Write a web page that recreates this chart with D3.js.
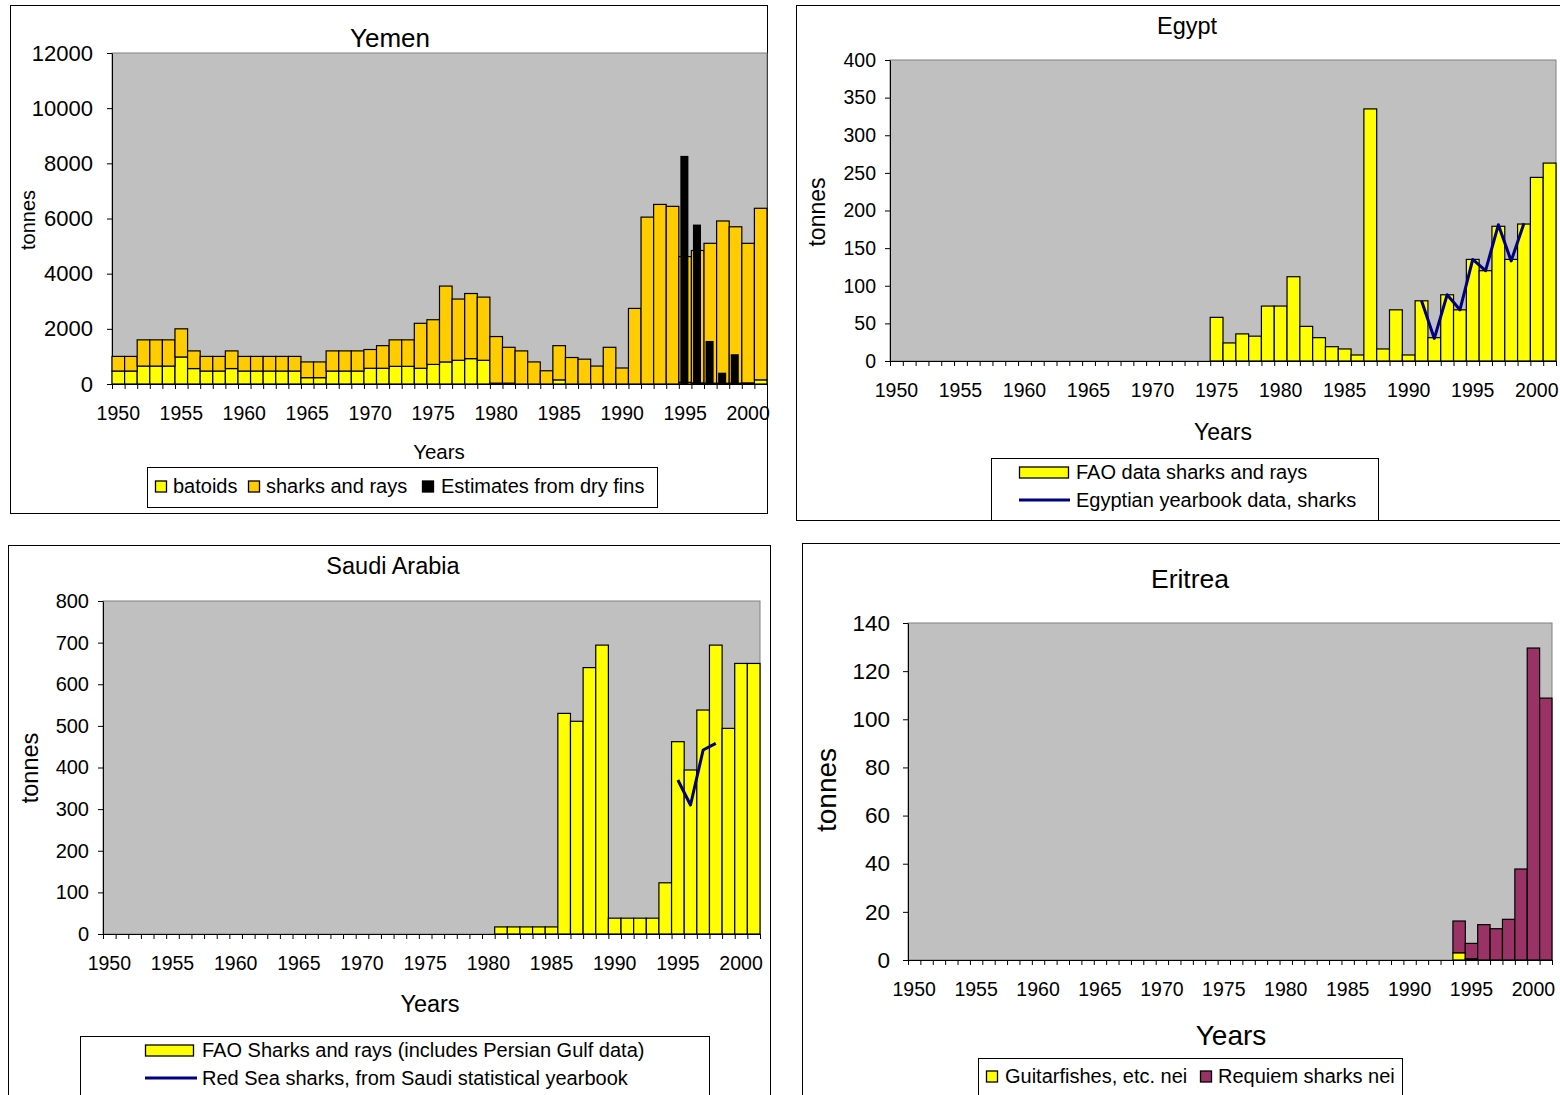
<!DOCTYPE html>
<html lang="en">
<head>
<meta charset="utf-8">
<title>Red Sea shark catches</title>
<script src="https://cdn.jsdelivr.net/npm/d3@7"></script>
<style>
  body { margin: 0; background: #fff; }
  svg { display: block; font-family: "Liberation Sans", Arial, sans-serif; }
</style>
</head>
<body>
<script>
// categories
var years = d3.range(1950, 2002);
var labelYears = [1950, 1955, 1960, 1965, 1970, 1975, 1980, 1985, 1990, 1995, 2000];

// Yemen (tonnes, 1950-2001)
var yemenBatoids = [470, 470, 650, 650, 650, 980, 560, 470, 470, 560,
                    470, 470, 470, 470, 470, 230, 230, 470, 470, 470,
                    570, 570, 640, 640, 570, 710, 800, 860, 920, 860,
                    30, 30, 0, 0, 0, 150, 0, 0, 0, 0,
                    0, 0, 0, 0, 0, 60, 40, 30, 30, 30,
                    40, 150];
var yemenSharks = [530, 530, 950, 950, 950, 1020, 640, 530, 530, 640,
                   530, 530, 530, 530, 530, 570, 570, 730, 730, 730,
                   680, 820, 960, 960, 1630, 1620, 2750, 2220, 2360, 2290,
                   1690, 1300, 1200, 800, 480, 1240, 960, 900, 650, 1330,
                   580, 2740, 6050, 6510, 6440, 4560, 4800, 5070, 5880, 5670,
                   5060, 6220];
var finYears = [1995, 1996, 1997, 1998, 1999];
var yemenDryFins = [8270, 5780, 1560, 410, 1080];

// Egypt
var egyptFaoYears = d3.range(1975, 2002);
var egyptFao = [58, 24, 36, 33, 73, 73, 112, 46, 31, 19, 16, 8, 335, 16, 68, 8,
                80, 31, 88, 68, 135, 120, 179, 135, 182, 244, 263];
var egyptBookYears = d3.range(1991, 2000);
var egyptYearbook = [80, 30, 88, 68, 135, 120, 181, 133, 183];

// Saudi Arabia
var saudiFaoYears = d3.range(1981, 2002);
var saudiFao = [17, 17, 17, 17, 17, 530, 511, 640, 694, 38, 38, 38, 38, 123,
                462, 394, 538, 694, 494, 650, 650];
var saudiBookYears = [1995, 1996, 1997, 1998];
var saudiRedSea = [370, 310, 442, 458];

// Eritrea
var eritreaYears = d3.range(1994, 2002);
var eritreaGuitar = [3, 0.5, 0, 0, 0, 0, 0, 0];
var eritreaRequiem = [13.2, 6.4, 14.7, 13, 16.9, 37.8, 129.6, 108.8];

var YELLOW = "#ffff00", ORANGE = "#ffcc00", NAVY = "#000080", PURPLE = "#993366";

var svg = d3.select("body").append("svg")
  .attr("width", 1560).attr("height", 1095);

function panel(p) {
  var g = svg.append("g");
  g.append("rect")
    .attr("x", p.frame[0] + 0.5).attr("y", p.frame[1] + 0.5)
    .attr("width", p.frame[2]).attr("height", p.frame[3])
    .attr("fill", "#fff").attr("stroke", "#000");
  g.append("rect")
    .attr("x", p.left).attr("y", p.top)
    .attr("width", p.right - p.left).attr("height", p.bottom - p.top)
    .attr("fill", "#c0c0c0").attr("stroke", "#808080");

  var x = d3.scaleBand().domain(years).range([p.left, p.right]).padding(0);
  var y = d3.scaleLinear().domain([0, p.yMax]).range([p.bottom, p.top]);

  // y axis
  var ya = g.append("g").attr("transform", "translate(" + p.left + ",0)")
    .call(d3.axisLeft(y).tickValues(d3.range(0, p.yMax + 1, p.yStep))
      .tickFormat(d3.format("d"))
      .tickSize(5).tickSizeOuter(0).tickPadding(p.yPad));
  ya.selectAll("text").style("font-size", p.yFont + "px").attr("fill", "#000");

  // tick marks between categories
  var xb = d3.scaleLinear().domain([0, years.length]).range([p.left, p.right]);
  g.append("g").attr("transform", "translate(0," + p.bottom + ")")
    .call(d3.axisBottom(xb).tickValues(d3.range(0, years.length + 1))
      .tickSize(5).tickSizeOuter(0).tickFormat(""));

  // year labels
  var xa = g.append("g").attr("transform", "translate(0," + p.bottom + ")")
    .call(d3.axisBottom(x).tickValues(labelYears).tickSize(0).tickPadding(0));
  xa.select(".domain").remove();
  xa.selectAll("text").attr("y", 29).attr("dy", "0.35em")
    .style("font-size", p.xFont + "px").attr("fill", "#000");

  g.append("text").attr("x", p.title[0]).attr("y", p.title[1]).attr("dy", "0.35em")
    .attr("text-anchor", "middle").style("font-size", p.title[2] + "px").text(p.name);
  g.append("text").attr("x", p.xTitle[0]).attr("y", p.xTitle[1]).attr("dy", "0.35em")
    .attr("text-anchor", "middle").style("font-size", p.xTitle[2] + "px").text("Years");
  g.append("text")
    .attr("transform", "translate(" + p.yTitle[0] + "," + p.yTitle[1] + ") rotate(-90)")
    .attr("dy", "0.35em").attr("text-anchor", "middle")
    .style("font-size", p.yTitle[2] + "px").text("tonnes");

  p.g = g; p.x = x; p.y = y;
  return p;
}

function legend(g, box, items) {
  g.append("rect").attr("x", box[0] + 0.5).attr("y", box[1] + 0.5)
    .attr("width", box[2]).attr("height", box[3])
    .attr("fill", "#fff").attr("stroke", "#000");
  items.forEach(function(it) {
    if (it.kind == "line") {
      g.append("line").attr("x1", it.x).attr("x2", it.x + it.w)
        .attr("y1", it.cy).attr("y2", it.cy)
        .attr("stroke", it.color).attr("stroke-width", 3);
    } else {
      g.append("rect").attr("x", it.x + 0.5).attr("y", it.cy - it.h / 2 + 0.5)
        .attr("width", it.w).attr("height", it.h)
        .attr("fill", it.color).attr("stroke", "#000").attr("stroke-width", 1.3);
    }
    g.append("text").attr("x", it.tx).attr("y", it.cy).attr("dy", "0.35em")
      .style("font-size", "20px").text(it.label);
  });
}

function stackedBars(p, rows, keys, colors) {
  var series = d3.stack().keys(keys)(rows);
  series.forEach(function(s, i) {
    p.g.append("g").selectAll("rect")
      .data(s.filter(function(d) { return d[1] - d[0] > 0; }))
      .enter().append("rect")
      .attr("x", function(d) { return p.x(d.data.year); })
      .attr("width", p.x.bandwidth())
      .attr("y", function(d) { return p.y(d[1]); })
      .attr("height", function(d) { return p.y(d[0]) - p.y(d[1]); })
      .attr("fill", colors[i]).attr("stroke", "#000").attr("stroke-width", 1.2);
  });
}

function lineSeries(p, yrs, vals) {
  var line = d3.line()
    .x(function(d, i) { return p.x(yrs[i]) + p.x.bandwidth() / 2; })
    .y(function(d) { return p.y(d); });
  p.g.append("path").datum(vals).attr("d", line)
    .attr("fill", "none").attr("stroke", NAVY).attr("stroke-width", 3)
    .attr("stroke-linejoin", "round");
}

// ---------- Yemen ----------
var yemen = panel({
  name: "Yemen", frame: [10, 5, 757, 508],
  left: 112, right: 767, top: 53, bottom: 384,
  yMax: 12000, yStep: 2000, yFont: 22, yPad: 14, xFont: 19.5,
  title: [390, 38, 26], xTitle: [439, 452, 20.5], yTitle: [28, 220, 20]
});
stackedBars(yemen, years.map(function(yr, i) {
  return {year: yr, batoids: yemenBatoids[i], sharks: yemenSharks[i]};
}), ["batoids", "sharks"], [YELLOW, ORANGE]);
yemen.g.append("g").selectAll("rect")
  .data(yemenDryFins).enter().append("rect")
  .attr("x", function(d, i) { return yemen.x(finYears[i]) + yemen.x.bandwidth() * 0.12; })
  .attr("width", yemen.x.bandwidth() * 0.64)
  .attr("y", function(d) { return yemen.y(d); })
  .attr("height", function(d) { return yemen.y(0) - yemen.y(d); })
  .attr("fill", "#000");
legend(yemen.g, [147, 467, 510, 40], [
  {x: 155, w: 11, h: 11, cy: 486, tx: 173, color: YELLOW, label: "batoids"},
  {x: 248, w: 11, h: 11, cy: 486, tx: 266, color: ORANGE, label: "sharks and rays"},
  {x: 422, w: 11, h: 11, cy: 486, tx: 441, color: "#000", label: "Estimates from dry fins"}
]);

// ---------- Egypt ----------
var egypt = panel({
  name: "Egypt", frame: [796, 5, 800, 515],
  left: 890, right: 1556, top: 60, bottom: 361,
  yMax: 400, yStep: 50, yFont: 19.5, yPad: 9, xFont: 19.5,
  title: [1187, 26, 23.5], xTitle: [1223, 432, 23], yTitle: [817, 212, 23]
});
stackedBars(egypt, egyptFaoYears.map(function(yr, i) {
  return {year: yr, fao: egyptFao[i]};
}), ["fao"], [YELLOW]);
lineSeries(egypt, egyptBookYears, egyptYearbook);
legend(egypt.g, [991, 458, 387, 62], [
  {x: 1019, w: 49, h: 11, cy: 472, tx: 1076, color: YELLOW, label: "FAO data sharks and rays"},
  {kind: "line", x: 1019, w: 51, cy: 500, tx: 1076, color: NAVY, label: "Egyptian yearbook data, sharks"}
]);

// ---------- Saudi Arabia ----------
var saudi = panel({
  name: "Saudi Arabia", frame: [8, 545, 762, 570],
  left: 103, right: 760, top: 601, bottom: 934,
  yMax: 800, yStep: 100, yFont: 20, yPad: 9, xFont: 19.5,
  title: [393, 566, 23.5], xTitle: [430, 1004, 23.5], yTitle: [30, 768, 23.5]
});
stackedBars(saudi, saudiFaoYears.map(function(yr, i) {
  return {year: yr, fao: saudiFao[i]};
}), ["fao"], [YELLOW]);
lineSeries(saudi, saudiBookYears, saudiRedSea);
legend(saudi.g, [80, 1036, 629, 70], [
  {x: 145, w: 48, h: 11, cy: 1050, tx: 202, color: YELLOW, label: "FAO Sharks and rays (includes Persian Gulf data)"},
  {kind: "line", x: 145, w: 52, cy: 1078, tx: 202, color: NAVY, label: "Red Sea sharks, from Saudi statistical yearbook"}
]);

// ---------- Eritrea ----------
var eritrea = panel({
  name: "Eritrea", frame: [802, 543, 800, 570],
  left: 908, right: 1552, top: 623, bottom: 960,
  yMax: 140, yStep: 20, yFont: 22.5, yPad: 13, xFont: 19.5,
  title: [1190, 579, 26.5], xTitle: [1231, 1035, 28], yTitle: [826, 790, 28]
});
stackedBars(eritrea, eritreaYears.map(function(yr, i) {
  return {year: yr, guitar: eritreaGuitar[i], requiem: eritreaRequiem[i]};
}), ["guitar", "requiem"], [YELLOW, PURPLE]);
legend(eritrea.g, [978, 1058, 424, 50], [
  {x: 986, w: 11, h: 11, cy: 1076, tx: 1005, color: YELLOW, label: "Guitarfishes, etc. nei"},
  {x: 1200, w: 11, h: 11, cy: 1076, tx: 1218, color: PURPLE, label: "Requiem sharks nei"}
]);
</script>
</body>
</html>
